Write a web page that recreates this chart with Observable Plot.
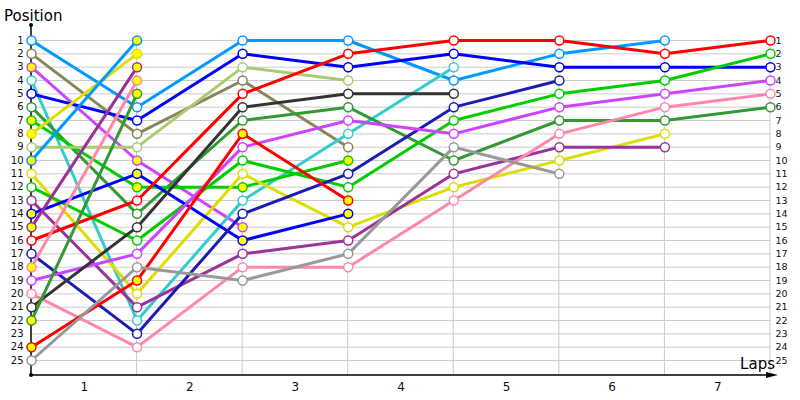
<!DOCTYPE html>
<html><head><meta charset="utf-8">
<script src="https://cdn.jsdelivr.net/npm/d3@7"></script>
<script src="https://cdn.jsdelivr.net/npm/@observablehq/plot@0.6"></script>
<style>html,body{margin:0;padding:0;background:#fff}</style>
</head><body><div id="chart"></div>
<script>
// Stages: 0 = starting grid, 1..7 = end of each lap
const stages = [0, 1, 2, 3, 4, 5, 6, 7];
const lapLabels = ["1", "2", "3", "4", "5", "6", "7"];
const positions = [1,2,3,4,5,6,7,8,9,10,11,12,13,14,15,16,17,18,19,20,21,22,23,24,25];

// One entry per car: line colour, marker fill, position at each stage
const seriesColors = [
  "#0099ff", "#86865a", "#cc44ff", "#33cccc", "#0000ff", "#339933",
  "#00cc00", "#dddd00", "#a8cc6e", "#0099ff", "#dddd00", "#00cc00",
  "#993399", "#0000ff", "#993399", "#ff0000", "#1c1cb4", "#ff88aa",
  "#cc44ff", "#ff88aa", "#333333", "#339933", "#ff0000", "#999999"
];
const seriesFills = [
  "#ffffff", "#ffffff", "#ffff00", "#ffffff", "#ffffff", "#ffffff",
  "#ffff00", "#ffff00", "#ffffff", "#ffff00", "#ffffff", "#ffffff",
  "#ffffff", "#ffff00", "#ffff00", "#ffffff", "#ffffff", "#ffff00",
  "#ffffff", "#ffffff", "#ffffff", "#ffff00", "#ffff00", "#ffffff"
];
const seriesPositions = [
  [1, 6, 1, 1, 4, 2, 1],
  [2, 8, 4, 9],
  [3, 10, 15],
  [4, 22, 13, 8, 3],
  [5, 7, 2, 3, 2, 3, 3, 3],
  [6, 14, 7, 6, 10, 7, 7, 6],
  [7, 12, 12, 10],
  [8, 2],
  [9, 9, 3, 4],
  [10, 1],
  [11, 20, 11, 15, 12, 10, 8],
  [12, 16, 10, 12, 7, 5, 4, 2],
  [13, 21, 17, 16, 11, 9, 9],
  [14, 11, 16, 14],
  [15, 3],
  [16, 13, 5, 2, 1, 1, 2, 1],
  [17, 23, 14, 11, 6, 4],
  [18, 4],
  [19, 17, 9, 7, 8, 6, 5, 4],
  [20, 24, 18, 18, 13, 8, 6, 5],
  [21, 15, 6, 5, 5],
  [22, 5],
  [24, 19, 8, 13],
  [25, 18, 19, 17, 9, 11]
];

const rows = seriesPositions.flatMap((ps, i) =>
  ps.map((p, j) => ({series: i, stage: stages[j], pos: p, color: seriesColors[i], fill: seriesFills[i]}))
);
const lapTicks = lapLabels.map((_, i) => (stages[i] + stages[i + 1]) / 2);

function frameAndTitles(index, scales, values, dims) {
  const {width, height, marginLeft, marginRight, marginTop, marginBottom} = dims;
  const g = d3.create("svg:g");
  const x0 = marginLeft, yb = height - marginBottom, yt = marginTop;
  const xe = width - marginRight + 8;
  g.selectAll("line.v").data(stages.slice(1)).join("line")
    .attr("x1", d => scales.x(d)).attr("x2", d => scales.x(d))
    .attr("y1", scales.y(positions[0])).attr("y2", yb)
    .attr("stroke", "#cccccc").attr("stroke-width", 1);
  g.append("line").attr("x1", x0).attr("x2", x0).attr("y1", yt).attr("y2", yb)
    .attr("stroke", "#000").attr("stroke-width", 1.5);
  g.append("line").attr("x1", x0).attr("x2", xe - 4).attr("y1", yb).attr("y2", yb)
    .attr("stroke", "#000").attr("stroke-width", 1.5);
  g.append("circle").attr("cx", x0).attr("cy", yt).attr("r", 2).attr("fill", "#000");
  g.append("circle").attr("cx", x0).attr("cy", yb).attr("r", 2).attr("fill", "#000");
  g.append("path").attr("d", `M${xe},${yb} l-12,-3 l0,6 z`).attr("fill", "#000");
  g.append("text").attr("x", 4).attr("y", 21).attr("font-size", 15)
    .attr("text-anchor", "start").attr("fill", "#000").text("Position");
  g.append("text").attr("x", xe - 3).attr("y", yb - 6).attr("font-size", 15)
    .attr("text-anchor", "end").attr("fill", "#000").text("Laps");
  return g.node();
}

const chart = Plot.plot({
  width: 800, height: 400,
  marginLeft: 31, marginRight: 30, marginTop: 25, marginBottom: 25,
  x: {domain: [stages[0], stages[stages.length - 1]]},
  y: {domain: [positions[0], positions[positions.length - 1]], range: [40, 360]},
  color: {type: "identity"},
  style: {fontFamily: "DejaVu Sans", background: "#fff", overflow: "visible"},
  marks: [
    Plot.ruleY(positions, {x1: stages[0], x2: stages[stages.length - 1], stroke: "#cccccc", strokeWidth: 1}),
    frameAndTitles,
    Plot.axisY(positions, {anchor: "left", tickSize: 0, tickPadding: 8, fontSize: 10, label: null, color: "#111"}),
    Plot.axisY(positions, {anchor: "right", tickSize: 0, tickPadding: 5, fontSize: 9.5, label: null, color: "#111"}),
    Plot.axisX(lapTicks, {anchor: "bottom", tickSize: 0, tickPadding: 7, fontSize: 12, label: null,
      tickFormat: (d, i) => lapLabels[i], color: "#111"}),
    Plot.line(rows, {x: "stage", y: "pos", z: "series", stroke: "color", strokeWidth: 3}),
    Plot.dot(rows, {x: "stage", y: "pos", stroke: "color", fill: "fill", r: 4.5, strokeWidth: 1.5})
  ]
});
document.getElementById("chart").appendChild(chart);
</script>
</body></html>
